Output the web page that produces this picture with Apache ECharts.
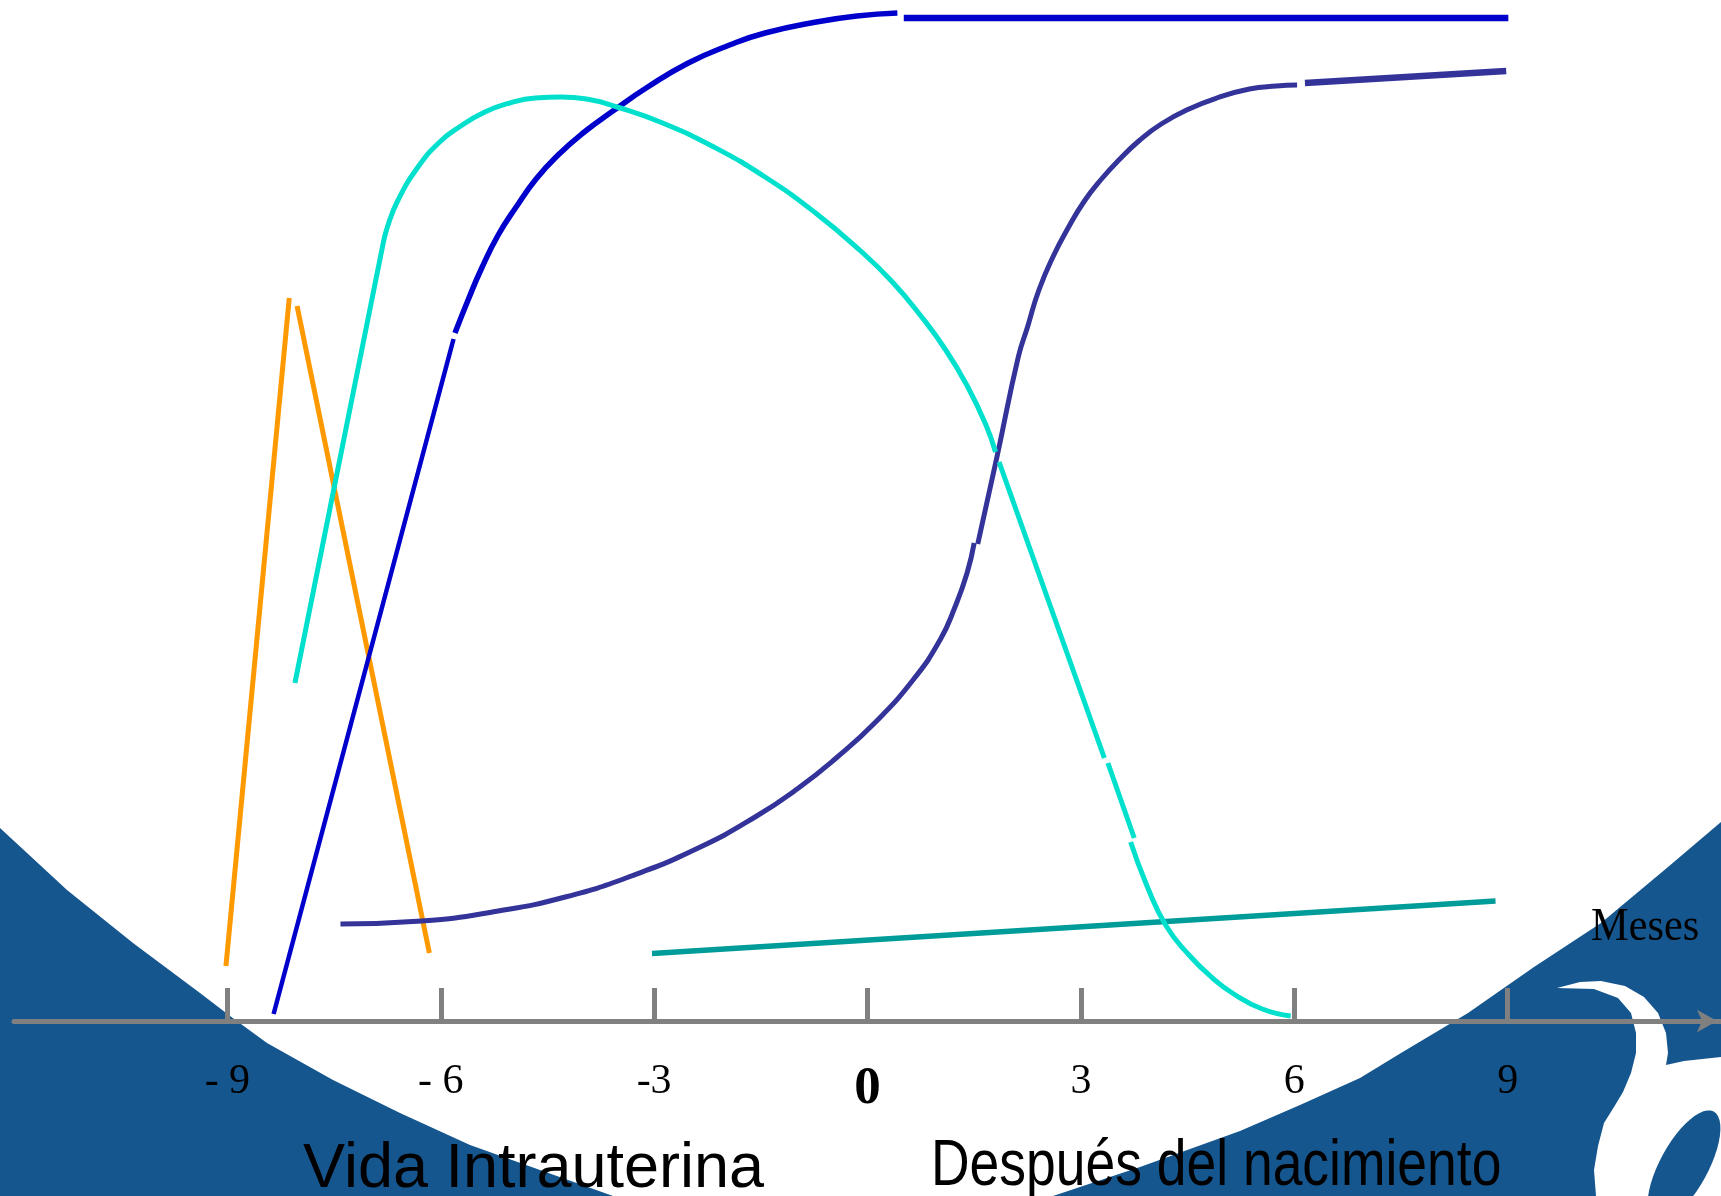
<!DOCTYPE html>
<html>
<head>
<meta charset="utf-8">
<title>Vida intrauterina / después del nacimiento</title>
<script src="https://cdn.jsdelivr.net/npm/echarts@6/dist/echarts.min.js"></script>
<style>
  html, body { margin: 0; padding: 0; background: #fff; }
  #chart { width: 1721px; height: 1196px; }
</style>
</head>
<body>
<div id="chart"></div>
<script>
// eje x: meses (negativos = vida intrauterina)
const tickValues = [-9, -6, -3, 0, 3, 6, 9];
const tickLabels = ["- 9", "- 6", "-3", "0", "3", "6", "9"];

// [mes, nivel], cada trazo por separado
const orangeUp = [[-9.02, 5.5], [-8.13, 72.3]];
const orangeDown = [[-8.02, 71.5], [-6.16, 6.8]];

const cyanRise = [
  [-8.05, 33.8], [-6.82, 77.4], [-6.75, 79.4], [-6.6, 82.1], [-6.32, 85.4],
  [-6.03, 87.8], [-5.74, 89.4], [-5.38, 90.9], [-5.03, 91.8], [-4.67, 92.3],
  [-4.31, 92.4], [-3.95, 92.2], [-3.52, 91.4], [-2.88, 89.8], [-2.16, 87.4],
  [-1.44, 84.4], [-0.73, 80.8], [-0.08, 76.9], [0.35, 73.9], [0.74, 70.6],
  [1.1, 67.1], [1.41, 63.4], [1.66, 59.7], [1.8, 56.9]
];
const cyanFall1 = [[1.85, 55.9], [3.33, 26.3]];
const cyanFall2 = [[3.38, 25.8], [3.75, 18.3]];
const cyanTail = [[3.7, 17.9], [3.93, 13.5], [4.2, 9.5], [4.52, 6.6], [4.85, 4.3], [5.15, 2.7], [5.55, 1.2], [5.95, 0.5]];

const blueRise = [[-8.35, 0.7], [-5.82, 68.2]];
const blueCurve = [
  [-5.8, 68.8], [-5.61, 72.2], [-5.43, 75.2], [-5.2, 78.5], [-4.94, 81.4],
  [-4.66, 84.2], [-4.35, 86.6], [-4.0, 88.8], [-3.56, 91.1], [-3.09, 93.4],
  [-2.52, 95.8], [-1.94, 97.6], [-1.44, 98.8], [-0.72, 99.9], [-0.15, 100.5],
  [0.42, 100.8]
];
const blueFlat = [[0.51, 100.3], [9.01, 100.3]];

const indigoLow = [
  [-7.41, 9.7], [-6.27, 10.0], [-5.19, 11.0], [-4.25, 12.4], [-3.32, 14.5],
  [-2.38, 17.3], [-1.58, 20.4], [-0.97, 23.3], [-0.44, 26.3], [0.1, 29.8],
  [0.64, 34.1], [1.02, 38.1], [1.23, 41.4], [1.4, 44.8], [1.5, 47.8]
];
const indigoHigh = [
  [1.55, 47.7], [1.82, 56.4], [2.12, 66.4], [2.25, 69.4], [2.41, 73.1],
  [2.62, 76.6], [2.82, 79.3], [3.05, 82.0], [3.29, 84.2], [3.52, 86.0],
  [3.83, 88.1], [4.13, 89.7], [4.52, 91.2], [4.91, 92.3], [5.37, 93.2],
  [5.75, 93.5], [6.04, 93.6]
];
const indigoFlat = [[6.15, 93.8], [8.98, 95.0]];

const teal = [[-3.03, 6.75], [8.83, 12.0]];

var bg = "#15568f";
var chart = echarts.init(document.getElementById("chart"), null, { renderer: "canvas" });

function stroke(data, color, width, smooth) {
  return {
    type: "line",
    data: data,
    showSymbol: false,
    silent: true,
    smooth: smooth || false,
    lineStyle: { color: color, width: width }
  };
}

// ovalo interior del logo (inclinado hacia la derecha)
var bowl = [];
for (var k = 0; k < 48; k++) {
  var t = (k / 48) * Math.PI * 2;
  var ex = 24 * Math.cos(t), ey = 62 * Math.sin(t), r = 0.5;
  bowl.push([1684 + ex * Math.cos(r) - ey * Math.sin(r), 1166 + ex * Math.sin(r) + ey * Math.cos(r)]);
}

let option = {
  animation: false,
  backgroundColor: "#ffffff",
  grid: { left: 14, right: 0, top: 1, bottom: 175 },
  xAxis: {
    type: "value",
    min: -12,
    max: 12,
    splitLine: { show: false },
    axisLine: {
      lineStyle: { color: "#808080", width: 5 },
      symbol: ["none", "arrow"],
      symbolSize: [17, 20],
      symbolOffset: [0, -4]
    },
    axisTick: {
      customValues: tickValues,
      inside: true,
      length: 33,
      lineStyle: { color: "#808080", width: 5 }
    },
    axisLabel: {
      customValues: tickValues,
      margin: 61,
      verticalAlign: "middle",
      color: "#000",
      fontFamily: "Liberation Serif",
      fontSize: 42,
      formatter: function (v) {
        var t = tickLabels[tickValues.indexOf(v)];
        return v === 0 ? "{b|" + t + "}" : t;
      },
      rich: {
        b: { fontFamily: "Liberation Serif", fontSize: 53, fontWeight: "bold", color: "#000", padding: [14, 0, 0, 0] }
      }
    }
  },
  yAxis: { type: "value", min: 0, max: 102, show: false },
  graphic: [
    {
      type: "polygon", z: -10, silent: true,
      shape: { points: [[0, 828], [67, 890], [133, 943], [200, 993], [230, 1016], [267, 1043], [333, 1080], [400, 1113], [470, 1145], [540, 1170], [613, 1196], [0, 1196]] },
      style: { fill: bg }
    },
    {
      type: "polygon", z: -10, silent: true,
      shape: { points: [[1721, 822], [1668, 867], [1601, 923], [1534, 967], [1468, 1013], [1401, 1053], [1360, 1078], [1300, 1105], [1240, 1131], [1140, 1167], [1053, 1196], [1721, 1196]] },
      style: { fill: bg }
    },
    {
      type: "polygon", z: -8, silent: true,
      shape: { points: [[1557, 988], [1580, 982], [1601, 981], [1625, 986], [1644, 997], [1658, 1013], [1666, 1033], [1668, 1053], [1666, 1065], [1684, 1061], [1721, 1057], [1721, 1196], [1596, 1196], [1594, 1170], [1598, 1146], [1604, 1123], [1614, 1107], [1623, 1092], [1631, 1073], [1636, 1053], [1636, 1033], [1631, 1013], [1618, 998], [1594, 989]] },
      style: { fill: "#ffffff" }
    },
    {
      type: "polygon", z: -7, silent: true,
      shape: { points: bowl },
      style: { fill: bg }
    },
    {
      type: "text", x: 303, y: 1170, z: 10, silent: true,
      style: { text: "Vida Intrauterina", font: '63px "Liberation Sans"', fill: "#000", align: "left", verticalAlign: "middle" }
    },
    {
      type: "text", x: 931, y: 1167, scaleX: 0.835, z: 10, silent: true,
      style: { text: "Después del nacimiento", font: '64px "Liberation Sans"', fill: "#000", align: "left", verticalAlign: "middle" }
    },
    {
      type: "text", x: 1591, y: 928, scaleX: 0.92, z: 10, silent: true,
      style: { text: "Meses", font: '46px "Liberation Serif"', fill: "#000", align: "left", verticalAlign: "middle" }
    }
  ],
  series: [
    stroke(teal, "#009c99", 5.5),
    stroke(orangeUp, "#ff9900", 5),
    stroke(orangeDown, "#ff9900", 5),
    stroke(indigoLow, "#333399", 5, 0.5),
    stroke(indigoHigh, "#333399", 5, 0.5),
    stroke(indigoFlat, "#333399", 6.5),
    stroke(blueRise, "#0000cc", 4.5),
    stroke(blueCurve, "#0000cc", 5.5, 0.5),
    stroke(blueFlat, "#0000cc", 6.5),
    stroke(cyanRise, "#00e0cc", 5, 0.5),
    stroke(cyanFall1, "#00e0cc", 5),
    stroke(cyanFall2, "#00e0cc", 5),
    stroke(cyanTail, "#00e0cc", 5, 0.5)
  ]
};
chart.setOption(option);
</script>
</body>
</html>
